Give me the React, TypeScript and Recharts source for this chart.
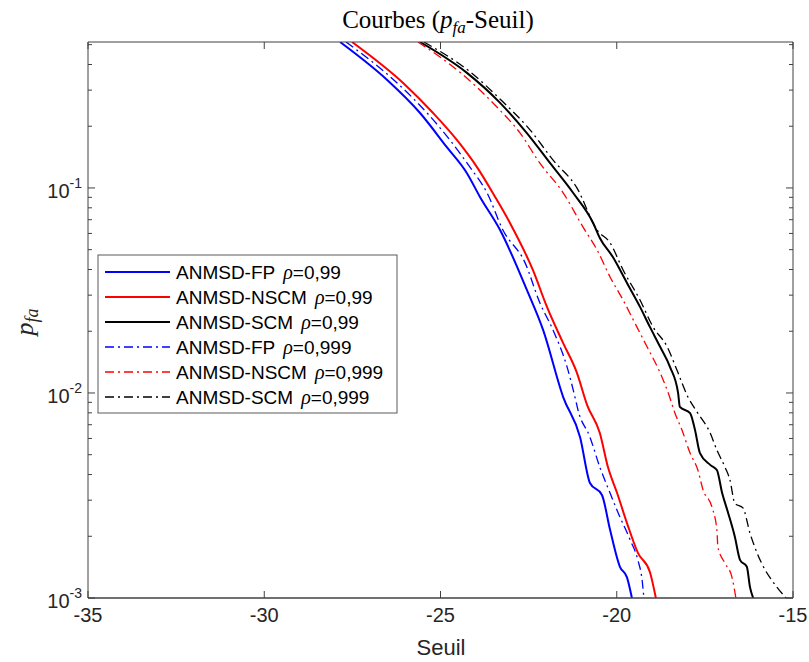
import React from "react";
import { LineChart, Line, XAxis, YAxis } from "recharts";

// Seuil (x) / p_fa (y) samples for each detector
const fp99X = [-27.85, -26.52, -25.58, -24.82, -24.25, -23.88, -23.31, -22.55, -22.09, -21.52, -21.04, -20.76, -20.42, -20.19, -19.91, -19.71, -19.57];
const fp99P = [0.515, 0.337, 0.232, 0.158, 0.118, 0.0904, 0.0624, 0.0318, 0.0203, 0.00955, 0.00609, 0.00364, 0.00318, 0.00215, 0.00142, 0.00126, 0.001];

const nscm99X = [-27.51, -26.06, -25.21, -24.53, -23.96, -23.45, -23.03, -22.38, -21.98, -21.52, -21.13, -20.84, -20.48, -20.25, -19.99, -19.71, -19.4, -19.06, -18.89];
const nscm99P = [0.515, 0.325, 0.232, 0.171, 0.126, 0.0904, 0.0675, 0.0398, 0.0263, 0.0175, 0.01254, 0.00873, 0.00638, 0.00435, 0.00325, 0.00232, 0.00166, 0.00134, 0.001];

const scm99X = [-25.58, -24.25, -23.31, -22.55, -21.89, -21.24, -20.67, -20.48, -20.11, -19.71, -19.34, -19.06, -18.77, -18.49, -18.26, -18.21, -17.92, -17.78, -17.64, -17.35, -17.16, -17.01, -16.84, -16.65, -16.5, -16.31, -16.22, -16.13];
const scm99P = [0.515, 0.364, 0.26, 0.185, 0.132, 0.0947, 0.0675, 0.057, 0.046, 0.0344, 0.0263, 0.021, 0.0168, 0.0134, 0.01, 0.00855, 0.00798, 0.0066, 0.00509, 0.00446, 0.00421, 0.00325, 0.0026, 0.00199, 0.00153, 0.00142, 0.00113, 0.001];

const fp999X = [-27.68, -26.23, -25.38, -24.73, -24.16, -23.68, -23.23, -22.6, -22.18, -21.81, -21.41, -21.18, -21.1, -20.76, -20.48, -20.19, -19.96, -19.62, -19.4, -19.28, -19.23];
const fp999P = [0.515, 0.325, 0.232, 0.171, 0.126, 0.0947, 0.0624, 0.0431, 0.0275, 0.0203, 0.0134, 0.00946, 0.00826, 0.00609, 0.00435, 0.00325, 0.0026, 0.00192, 0.00153, 0.00122, 0.001];

const nscm999X = [-25.64, -24.36, -23.4, -22.74, -22.18, -21.52, -20.96, -20.56, -20.19, -19.82, -19.43, -19.14, -18.77, -18.49, -18.35, -18.15, -17.92, -17.7, -17.55, -17.3, -17.16, -17.13, -16.93, -16.73, -16.62];
const nscm999P = [0.515, 0.356, 0.248, 0.185, 0.132, 0.0947, 0.0646, 0.0499, 0.0368, 0.0284, 0.021, 0.0168, 0.01254, 0.00946, 0.00798, 0.0066, 0.00509, 0.00421, 0.00336, 0.00278, 0.00215, 0.00177, 0.00148, 0.00126, 0.001];

const scm999X = [-25.47, -24.16, -23.23, -22.46, -21.81, -21.13, -20.56, -20.19, -19.82, -19.34, -18.97, -18.57, -18.29, -17.98, -17.7, -17.35, -17.16, -16.93, -16.79, -16.65, -16.42, -16.22, -16.02, -15.79, -15.6, -15.2];
const scm999P = [0.515, 0.368, 0.263, 0.192, 0.137, 0.1, 0.0624, 0.054, 0.0398, 0.0284, 0.021, 0.0168, 0.0129, 0.00955, 0.00798, 0.00638, 0.00527, 0.00435, 0.00377, 0.0029, 0.00275, 0.00207, 0.00166, 0.00137, 0.00122, 0.001];

const xTicks = [-35, -30, -25, -20, -15];
const yMajorTicks = [0.001, 0.01, 0.1];
const yMinorTicks = [
  0.002, 0.003, 0.004, 0.005, 0.006, 0.007, 0.008, 0.009,
  0.02, 0.03, 0.04, 0.05, 0.06, 0.07, 0.08, 0.09,
  0.2, 0.3, 0.4, 0.5,
];

const W = 809;
const H = 662;
const PLOT = { left: 88, right: 793, top: 42, bottom: 598 };
const AX_X_H = 30; // bottom axis band
const AX_Y_W = 40; // left axis band
const AX_SIDE = 8; // top / right axis bands
const AXIS = "#404040";
const SANS = "'Liberation Sans', Arial, sans-serif";
const SERIF = "'Liberation Serif', 'Times New Roman', serif";
const DASHDOT = "9 4 2 4";

const toRows = (xs: number[], ps: number[]) => xs.map((x, i) => ({ x, p: ps[i] }));

const series = [
  { key: "fp99", name: "ANMSD-FP", rho: "0,99", color: "#0000ff", dash: undefined, width: 2, data: toRows(fp99X, fp99P) },
  { key: "nscm99", name: "ANMSD-NSCM", rho: "0,99", color: "#ff0000", dash: undefined, width: 2, data: toRows(nscm99X, nscm99P) },
  { key: "scm99", name: "ANMSD-SCM", rho: "0,99", color: "#000000", dash: undefined, width: 2, data: toRows(scm99X, scm99P) },
  { key: "fp999", name: "ANMSD-FP", rho: "0,999", color: "#0000ff", dash: DASHDOT, width: 1.3, data: toRows(fp999X, fp999P) },
  { key: "nscm999", name: "ANMSD-NSCM", rho: "0,999", color: "#ff0000", dash: DASHDOT, width: 1.3, data: toRows(nscm999X, nscm999P) },
  { key: "scm999", name: "ANMSD-SCM", rho: "0,999", color: "#000000", dash: DASHDOT, width: 1.3, data: toRows(scm999X, scm999P) },
];

// x ticks point inward, at the bottom and top of the box
function XTick(props: any) {
  const { x, payload } = props;
  return (
    <g>
      <line x1={x} x2={x} y1={PLOT.bottom} y2={PLOT.bottom - 7} stroke={AXIS} />
      <line x1={x} x2={x} y1={PLOT.top} y2={PLOT.top + 7} stroke={AXIS} />
      <text x={x} y={622} textAnchor="middle" fontFamily={SANS} fontSize={20} fill="#262626">
        {payload.value}
      </text>
    </g>
  );
}

// log ticks: long ones with a 10^n label for decades, short ones in between
function YTick(props: any) {
  const { y, payload } = props;
  const v = payload.value as number;
  const major = yMajorTicks.includes(v);
  const len = major ? 7 : 4;
  return (
    <g>
      <line x1={PLOT.left} x2={PLOT.left + len} y1={y} y2={y} stroke={AXIS} />
      <line x1={PLOT.right} x2={PLOT.right - len} y1={y} y2={y} stroke={AXIS} />
      {major && (
        <text x={82} y={y + 10} textAnchor="end" fontFamily={SANS} fill="#262626">
          <tspan fontSize={20}>10</tspan>
          <tspan fontSize={14} dy={-10}>{Math.round(Math.log10(v))}</tspan>
        </text>
      )}
    </g>
  );
}

function Overlay() {
  const lx = 98;
  const ly = 255;
  return (
    <svg width={W} height={H} style={{ position: "absolute", left: 0, top: 0, pointerEvents: "none" }}>
      <text x={438} y={28} textAnchor="middle" fontFamily={SERIF} fontSize={25} fill="#000">
        Courbes (<tspan fontStyle="italic">p</tspan>
        <tspan fontStyle="italic" fontSize={17} dy={5}>fa</tspan>
        <tspan dy={-5}>-Seuil)</tspan>
      </text>
      <text x={441} y={655} textAnchor="middle" fontFamily={SANS} fontSize={22} fill="#262626">
        Seuil
      </text>
      <text transform="translate(33,322) rotate(-90)" textAnchor="middle" fontFamily={SERIF} fontSize={26} fill="#262626">
        <tspan fontStyle="italic">p</tspan>
        <tspan fontStyle="italic" fontSize={18} dy={5}>fa</tspan>
      </text>

      <rect x={lx} y={ly} width={299} height={158} fill="#fff" stroke="#5a5a5a" strokeWidth={1} />
      {series.map((s, i) => {
        const cy = ly + 17 + i * 25;
        return (
          <g key={s.key}>
            <line x1={105} x2={170} y1={cy} y2={cy} stroke={s.color} strokeWidth={s.width} strokeDasharray={s.dash} />
            <text x={176} y={cy + 7} fontFamily={SANS} fontSize={19} fill="#000">
              {s.name}
              <tspan dx={8} fontFamily={SERIF} fontStyle="italic" fontSize={20}>ρ</tspan>
              <tspan>={s.rho}</tspan>
            </text>
          </g>
        );
      })}
    </svg>
  );
}

export default function App() {
  return (
    <div style={{ position: "absolute", left: 0, top: 0, width: W, height: H, background: "#fff" }}>
      <LineChart
        width={W}
        height={H}
        margin={{
          top: PLOT.top - AX_SIDE,
          right: W - PLOT.right - AX_SIDE,
          bottom: H - PLOT.bottom - AX_X_H,
          left: PLOT.left - AX_Y_W,
        }}
      >
        <XAxis
          dataKey="x"
          type="number"
          domain={[-35, -15]}
          ticks={xTicks}
          interval={0}
          height={AX_X_H}
          tickLine={false}
          tick={(p: any) => <XTick {...p} />}
          axisLine={{ stroke: AXIS, strokeWidth: 1.3 }}
          allowDataOverflow
        />
        <XAxis
          xAxisId="top"
          orientation="top"
          type="number"
          domain={[-35, -15]}
          height={AX_SIDE}
          tick={false}
          tickLine={false}
          axisLine={{ stroke: AXIS }}
        />
        <YAxis
          type="number"
          scale="log"
          domain={[0.001, 0.515]}
          ticks={[...yMajorTicks, ...yMinorTicks]}
          interval={0}
          width={AX_Y_W}
          tickLine={false}
          tick={(p: any) => <YTick {...p} />}
          axisLine={{ stroke: AXIS }}
          allowDataOverflow
        />
        <YAxis
          yAxisId="right"
          orientation="right"
          type="number"
          scale="log"
          domain={[0.001, 0.515]}
          width={AX_SIDE}
          tick={false}
          tickLine={false}
          axisLine={{ stroke: AXIS }}
          allowDataOverflow
        />
        {series.map((s) => (
          <Line
            key={s.key}
            data={s.data}
            dataKey="p"
            type="monotone"
            stroke={s.color}
            strokeWidth={s.width}
            strokeDasharray={s.dash}
            dot={false}
            activeDot={false}
            isAnimationActive={false}
          />
        ))}
      </LineChart>
      <Overlay />
    </div>
  );
}
